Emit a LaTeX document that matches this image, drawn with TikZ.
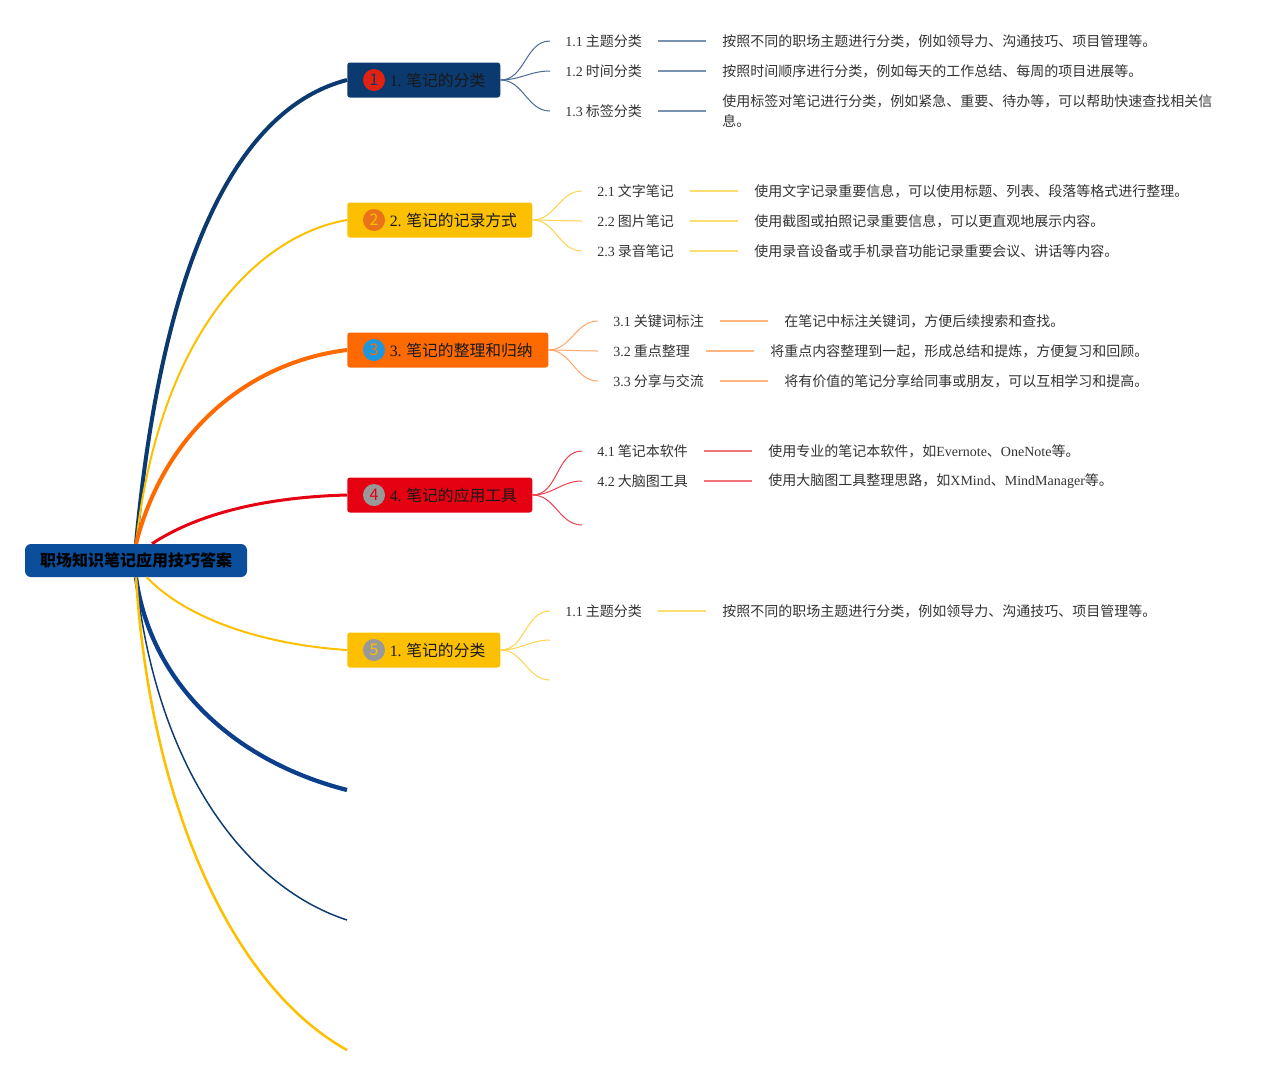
\documentclass[tikz,border=0pt]{standalone}
\usepackage{fontspec}
\setmainfont{Liberation Serif}
\newfontfamily\cjk{Noto Sans CJK SC}
\usetikzlibrary{positioning}
\definecolor{rootblue}{HTML}{0B4F9C}
\definecolor{navy}{HTML}{0A3A6F}
\definecolor{deepblue}{HTML}{0B3F8C}
\definecolor{amber}{HTML}{FCC000}
\definecolor{tangerine}{HTML}{FF6A00}
\definecolor{scarlet}{HTML}{E50012}
\definecolor{badgered}{HTML}{E3210F}
\definecolor{badgeorange}{HTML}{E8731A}
\definecolor{badgeblue}{HTML}{1E96DC}
\definecolor{badgegray}{HTML}{999999}
\definecolor{leafgray}{HTML}{333333}
\newcommand\lat[1]{{\rmfamily #1}}

\begin{document}
\begin{tikzpicture}[x=0.75pt,y=-0.75pt,
  root/.style={fill=rootblue,rounded corners=4.5pt,minimum width=166.5pt,minimum height=24.75pt,
    inner sep=0pt,font=\cjk\bfseries\fontsize{12}{14}\selectfont,text=black},
  branch/.style={fill=#1,rounded corners=2pt,minimum height=26.25pt,inner sep=0pt,anchor=west},
  badge/.style={circle,fill=#1,minimum size=16.5pt,inner sep=0pt,font=\cjk\fontsize{12}{14}\selectfont},
  btext/.style={inner sep=0pt,font=\cjk\fontsize{11.85}{14}\selectfont,text=black!90},
  leaf/.style={inner xsep=0pt,inner ysep=1pt,anchor=west,align=left,
    font=\cjk\fontsize{10.5}{15}\selectfont,text=leafgray},
  sub/.style={draw=#1,line width=0.75pt},
  twig/.style={draw=#1,line width=1.1pt,shorten <=12pt,shorten >=12pt}]
 \useasboundingbox (0,0) rectangle (1282,1075);

 \node[root] (root) at (136,560.5) {职场知识笔记应用技巧答案};

 \node[branch=navy,minimum width=114.75pt] (b1) at (347,80) {};
 \node[badge=badgered,text=navy] (n1) at ([xshift=20.25pt]b1.west) {1};
 \node[btext,right=3.2pt of n1] (t1) {\lat{1.} 笔记的分类};
 \node[branch=amber,minimum width=138.75pt] (b2) at (347,220) {};
 \node[badge=badgeorange,text=amber] (n2) at ([xshift=20.25pt]b2.west) {2};
 \node[btext,right=3.2pt of n2] (t2) {\lat{2.} 笔记的记录方式};
 \node[branch=tangerine,minimum width=150.75pt] (b3) at (347,350) {};
 \node[badge=badgeblue,text=tangerine] (n3) at ([xshift=20.25pt]b3.west) {3};
 \node[btext,right=3.2pt of n3] (t3) {\lat{3.} 笔记的整理和归纳};
 \node[branch=scarlet,minimum width=138.75pt] (b4) at (347,495) {};
 \node[badge=badgegray,text=scarlet] (n4) at ([xshift=20.25pt]b4.west) {4};
 \node[btext,right=3.2pt of n4] (t4) {\lat{4.} 笔记的应用工具};
 \node[branch=amber,minimum width=114.75pt] (b5) at (347,650) {};
 \node[badge=badgegray,text=amber] (n5) at ([xshift=20.25pt]b5.west) {5};
 \node[btext,right=3.2pt of n5] (t5) {\lat{1.} 笔记的分类};

 \coordinate (e1) at (347,790);
 \coordinate (e2) at (347,920);
 \coordinate (e3) at (347,1050);

 \draw[navy,line width=3pt] (root.north) .. controls (165,230) and (250,105) .. (b1.west);
 \draw[amber,line width=1.5pt] (root.north) .. controls (160,330) and (260,235) .. (b2.west);
 \draw[tangerine,line width=3pt] (root.north) .. controls (165,430) and (250,362) .. (b3.west);
 \draw[scarlet,line width=2.25pt] ([xshift=12pt]root.north) .. controls (200,512) and (270,497) .. (b4.west);
 \draw[amber,line width=1.5pt] ([xshift=8pt]root.south) .. controls (190,622) and (270,645) .. (b5.west);
 \draw[deepblue,line width=3.2pt] (root.south) .. controls (150,680) and (230,760) .. (e1);
 \draw[navy,line width=1.1pt] (root.south) .. controls (155,760) and (240,885) .. (e2);
 \draw[amber,line width=1.9pt] (root.south) .. controls (150,800) and (230,985) .. (e3);

 \node[leaf] (l11) at (565,41) {\lat{1.1} 主题分类};
 \node[leaf,right=60pt of l11] (d11) {按照不同的职场主题进行分类，例如领导力、沟通技巧、项目管理等。};
 \node[leaf] (l12) at (565,71) {\lat{1.2} 时间分类};
 \node[leaf,right=60pt of l12] (d12) {按照时间顺序进行分类，例如每天的工作总结、每周的项目进展等。};
 \node[leaf] (l13) at (565,111) {\lat{1.3} 标签分类};
 \node[leaf,right=60pt of l13] (d13) {使用标签对笔记进行分类，例如紧急、重要、待办等，可以帮助快速查找相关信\\息。};
 \foreach \k in {11,12,13} {
  \draw[sub=navy!75] (b1.east) to[out=0,in=180] ([xshift=-11.25pt]l\k.west);
  \draw[twig=navy!55] (l\k) -- (d\k);
 }

 \node[leaf] (l21) at (597,191) {\lat{2.1} 文字笔记};
 \node[leaf,right=60pt of l21] (d21) {使用文字记录重要信息，可以使用标题、列表、段落等格式进行整理。};
 \node[leaf] (l22) at (597,221) {\lat{2.2} 图片笔记};
 \node[leaf,right=60pt of l22] (d22) {使用截图或拍照记录重要信息，可以更直观地展示内容。};
 \node[leaf] (l23) at (597,251) {\lat{2.3} 录音笔记};
 \node[leaf,right=60pt of l23] (d23) {使用录音设备或手机录音功能记录重要会议、讲话等内容。};
 \foreach \k in {21,22,23} {
  \draw[sub=amber!70] (b2.east) to[out=0,in=180] ([xshift=-11.25pt]l\k.west);
  \draw[twig=amber!55] (l\k) -- (d\k);
 }

 \node[leaf] (l31) at (613,321) {\lat{3.1} 关键词标注};
 \node[leaf,right=60pt of l31] (d31) {在笔记中标注关键词，方便后续搜索和查找。};
 \node[leaf] (l32) at (613,351) {\lat{3.2} 重点整理};
 \node[leaf,right=60pt of l32] (d32) {将重点内容整理到一起，形成总结和提炼，方便复习和回顾。};
 \node[leaf] (l33) at (613,381) {\lat{3.3} 分享与交流};
 \node[leaf,right=60pt of l33] (d33) {将有价值的笔记分享给同事或朋友，可以互相学习和提高。};
 \foreach \k in {31,32,33} {
  \draw[sub=tangerine!60] (b3.east) to[out=0,in=180] ([xshift=-11.25pt]l\k.west);
  \draw[twig=tangerine!50] (l\k) -- (d\k);
 }

 \node[leaf] (l41) at (597,451) {\lat{4.1} 笔记本软件};
 \node[leaf,right=60pt of l41] (d41) {使用专业的笔记本软件，如\lat{Evernote}、\lat{OneNote}等。};
 \node[leaf] (l42) at (597,481) {\lat{4.2} 大脑图工具};
 \node[leaf,right=60pt of l42] (d42) {使用大脑图工具整理思路，如\lat{XMind}、\lat{MindManager}等。};
 \coordinate (l43) at (582,525);
 \foreach \k in {41,42} {
  \draw[sub=scarlet!75] (b4.east) to[out=0,in=180] ([xshift=-11.25pt]l\k.west);
  \draw[twig=scarlet!55] (l\k) -- (d\k);
 }
 \draw[sub=scarlet!75] (b4.east) to[out=0,in=180] (l43);

 \node[leaf] (l51) at (565,611) {\lat{1.1} 主题分类};
 \node[leaf,right=60pt of l51] (d51) {按照不同的职场主题进行分类，例如领导力、沟通技巧、项目管理等。};
 \coordinate (l52) at (550,640);
 \coordinate (l53) at (550,680);
 \draw[sub=amber!70] (b5.east) to[out=0,in=180] ([xshift=-11.25pt]l51.west);
 \draw[twig=amber!55] (l51) -- (d51);
 \draw[sub=amber!70] (b5.east) to[out=0,in=180] (l52);
 \draw[sub=amber!70] (b5.east) to[out=0,in=180] (l53);
\end{tikzpicture}
\end{document}
